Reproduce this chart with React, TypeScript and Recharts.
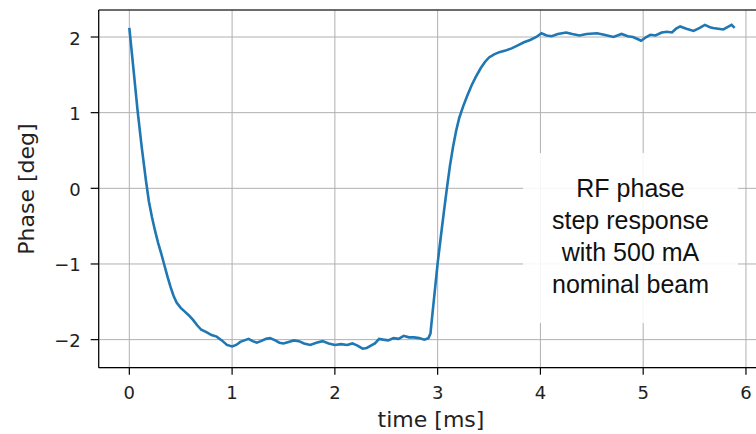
import React from 'react';
import { LineChart, Line, XAxis, YAxis, CartesianGrid, ReferenceLine } from 'recharts';

const TIME_MS = [
  0.0, 0.04, 0.08, 0.12, 0.16, 0.19, 0.22, 0.25, 0.28, 0.31, 0.34, 0.37, 0.4, 0.43, 0.46, 0.5, 0.54, 0.58, 0.62, 0.66, 0.7,
  0.75, 0.8, 0.85, 0.9, 0.95, 1.0, 1.04, 1.08, 1.12, 1.16, 1.2, 1.24, 1.28, 1.33, 1.37, 1.42, 1.46, 1.5, 1.55, 1.6,
  1.65, 1.7, 1.76, 1.82, 1.88, 1.94, 2.0, 2.06, 2.12, 2.17, 2.22, 2.27, 2.31, 2.35, 2.39, 2.43, 2.47, 2.52, 2.57, 2.62,
  2.67, 2.72, 2.77, 2.82, 2.87, 2.91, 2.93, 2.95, 2.97, 3.0, 3.03, 3.06, 3.09, 3.12, 3.15, 3.18, 3.21, 3.25, 3.29, 3.33,
  3.37, 3.42, 3.46, 3.5, 3.55, 3.6, 3.66, 3.72, 3.78, 3.84, 3.9, 3.96, 4.01, 4.06, 4.11, 4.17, 4.25, 4.31, 4.38, 4.45,
  4.55, 4.62, 4.71, 4.79, 4.85, 4.9, 4.95, 4.98, 5.03, 5.07, 5.12, 5.18, 5.23, 5.28, 5.32, 5.36, 5.42, 5.49, 5.55, 5.6,
  5.65, 5.68, 5.73, 5.78, 5.82, 5.86, 5.89,
];

const PHASE_DEG = [
  2.12, 1.58, 1.03, 0.55, 0.12, -0.17, -0.38, -0.56, -0.72, -0.86, -1.01, -1.16, -1.3, -1.42, -1.51, -1.58, -1.63, -1.68, -1.74, -1.81, -1.87,
  -1.9, -1.94, -1.96, -2.01, -2.07, -2.09, -2.07, -2.03, -2.01, -1.99, -2.02, -2.04, -2.02, -1.99, -1.98, -2.01, -2.04, -2.05, -2.03, -2.01,
  -2.02, -2.05, -2.07, -2.04, -2.02, -2.05, -2.07, -2.06, -2.07, -2.05, -2.08, -2.12, -2.11, -2.08, -2.05, -1.99, -2.0, -2.01, -1.98, -1.99,
  -1.95, -1.97, -1.97, -1.98, -2.0, -1.98, -1.92, -1.65, -1.39, -0.99, -0.65, -0.32, 0.0, 0.3, 0.55, 0.76, 0.93, 1.09, 1.23, 1.36,
  1.47, 1.59, 1.67, 1.73, 1.77, 1.8, 1.82, 1.85, 1.89, 1.93, 1.96, 2.0, 2.05, 2.02, 2.01, 2.04, 2.06, 2.04, 2.02, 2.04,
  2.05, 2.03, 2.0, 2.04, 2.01, 2.0, 1.97, 1.95, 2.0, 2.03, 2.02, 2.06, 2.07, 2.06, 2.11, 2.14, 2.11, 2.08, 2.12, 2.16,
  2.13, 2.12, 2.11, 2.1, 2.13, 2.16, 2.12,
];

const X_TICKS = [0, 1, 2, 3, 4, 5, 6];
const Y_TICKS = [-2, -1, 0, 1, 2];
const X_DOMAIN: [number, number] = [-0.298, 6.195];
const Y_DOMAIN: [number, number] = [-2.371, 2.357];
const X_LABEL = 'time [ms]';
const Y_LABEL = 'Phase [deg]';
const ANNOTATION_LINES = ['RF phase', 'step response', 'with 500 mA', 'nominal beam'];

const data = TIME_MS.map((t, i) => ({ t, phase: PHASE_DEG[i] }));

const fmt = (v: number) => String(v).replace('-', '\u2212');
const TICK_FONT = "'DejaVu Sans', sans-serif";

const XTick = (props: any) => {
  const { x, y, payload } = props;
  return (
    <text x={x} y={y + 22.3} textAnchor="middle" fontFamily={TICK_FONT} fontSize={18} fill="#222">
      {fmt(payload.value)}
    </text>
  );
};

const YTick = (props: any) => {
  const { x, y, payload } = props;
  return (
    <text x={x} y={y + 7.5} textAnchor="end" fontFamily={TICK_FONT} fontSize={18} fill="#222">
      {fmt(payload.value)}
    </text>
  );
};

export default function App() {
  return (
    <div style={{ position: 'absolute', left: 0, top: 0, width: 756, height: 434, overflow: 'hidden', background: '#fff' }}>
      <LineChart width={770} height={434} data={data} margin={{ top: 10, right: 4, bottom: 0, left: 0 }}>
        <CartesianGrid stroke="#b0b0b0" strokeWidth={1} />
        <XAxis
          dataKey="t"
          type="number"
          domain={X_DOMAIN}
          ticks={X_TICKS}
          allowDataOverflow
          height={66.3}
          tickSize={7}
          tickMargin={2}
          axisLine={{ stroke: '#000', strokeWidth: 1.2 }}
          tickLine={{ stroke: '#000', strokeWidth: 1.2 }}
          tick={<XTick />}
        />
        <YAxis
          type="number"
          domain={Y_DOMAIN}
          ticks={Y_TICKS}
          allowDataOverflow
          width={98.7}
          tickSize={8}
          tickMargin={10}
          axisLine={{ stroke: '#000', strokeWidth: 1.2 }}
          tickLine={{ stroke: '#000', strokeWidth: 1.2 }}
          tick={<YTick />}
        />
        <ReferenceLine y={Y_DOMAIN[1]} stroke="#000" strokeWidth={1.2} ifOverflow="extendDomain" />
        <Line
          type="linear"
          dataKey="phase"
          stroke="#1f77b4"
          strokeWidth={2.6}
          dot={false}
          activeDot={false}
          isAnimationActive={false}
        />
      </LineChart>
      <svg width={756} height={434} style={{ position: 'absolute', left: 0, top: 0, pointerEvents: 'none' }}>
        <text transform="translate(34,189) rotate(-90)" textAnchor="middle" fontFamily={TICK_FONT} fontSize={22} fill="#222">
          {Y_LABEL}
        </text>
        <text x={431} y={427} textAnchor="middle" fontFamily={TICK_FONT} fontSize={22} fill="#222">
          {X_LABEL}
        </text>
        <rect x={523} y={153} width={215} height={170} fill="#fff" fillOpacity={0.88} />
        {ANNOTATION_LINES.map((line, i) => (
          <text
            key={line}
            x={630.5}
            y={196.7 + i * 32}
            textAnchor="middle"
            fontFamily="'Liberation Sans', Arial, sans-serif"
            fontSize={25}
            fill="#111"
          >
            {line}
          </text>
        ))}
      </svg>
    </div>
  );
}
